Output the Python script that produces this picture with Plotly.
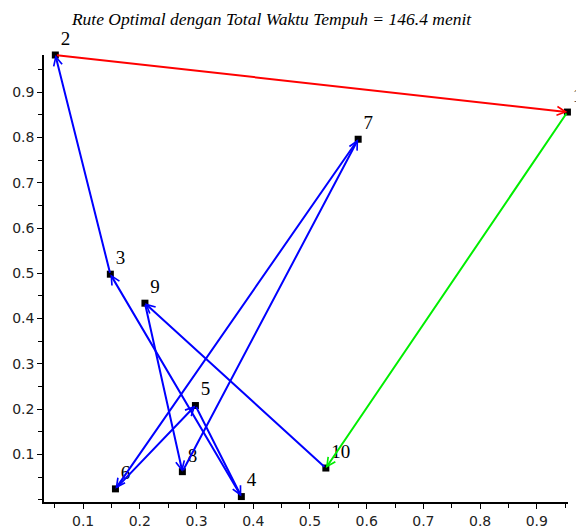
import plotly.graph_objects as go

# ---- data ----
point_ids = ["1", "2", "3", "4", "5", "6", "7", "8", "9", "10"]
x_vals = [0.954, 0.051, 0.148, 0.379, 0.298, 0.157, 0.585, 0.275, 0.209, 0.528]
y_vals = [0.856, 0.982, 0.498, 0.007, 0.208, 0.024, 0.796, 0.062, 0.434, 0.070]
route = [1, 10, 9, 8, 7, 6, 5, 4, 3, 2, 1]
title_text = "Rute Optimal dengan Total Waktu Tempuh = 146.4 menit"
x_ticks = [0.1, 0.2, 0.3, 0.4, 0.5, 0.6, 0.7, 0.8, 0.9]
y_ticks = [0.1, 0.2, 0.3, 0.4, 0.5, 0.6, 0.7, 0.8, 0.9]

SERIF = "Times New Roman, Liberation Serif, serif"

fig = go.Figure()

fig.add_trace(go.Scatter(
    x=x_vals, y=y_vals, mode="markers+text",
    text=point_ids, textposition="top right",
    marker=dict(symbol="square", size=7, color="black"),
    textfont=dict(family=SERIF, size=19, color="black"),
    cliponaxis=False, hoverinfo="skip", showlegend=False,
))

n_seg = len(route) - 1
for i in range(n_seg):
    a = route[i] - 1
    b = route[i + 1] - 1
    if i == 0:
        col = "#00ee00"
    elif i == n_seg - 1:
        col = "#ff0000"
    else:
        col = "#0000ff"
    fig.add_annotation(
        x=x_vals[b], y=y_vals[b], ax=x_vals[a], ay=y_vals[a],
        xref="x", yref="y", axref="x", ayref="y",
        text="", showarrow=True, arrowhead=5, arrowsize=0.85,
        arrowwidth=2, arrowcolor=col, standoff=0, startstandoff=0,
    )

axis_common = dict(
    showgrid=False, zeroline=False, showline=True, linecolor="black",
    linewidth=1.5, ticks="outside", ticklen=5, tickwidth=1.2, tickcolor="black",
    tickfont=dict(family="DejaVu Sans", size=14, color="#222222"),
    minor=dict(ticks="outside", ticklen=4, tickwidth=1.2, tickcolor="black", dtick=0.05),
    mirror=False, automargin=False,
)

fig.update_xaxes(range=[0.031, 0.955], tickvals=x_ticks,
                 ticktext=[str(v) for v in x_ticks], **axis_common)
fig.update_yaxes(range=[-0.005, 0.982], tickvals=y_ticks,
                 ticktext=[str(v) for v in y_ticks], **axis_common)

fig.update_layout(
    width=576, height=520,
    margin=dict(l=36, r=16, t=47, b=26),
    plot_bgcolor="white", paper_bgcolor="white",
    title=dict(text="<i>" + title_text + "</i>", xref="container", x=0.4575,
               xanchor="center", y=0.979, yanchor="middle",
               font=dict(family=SERIF, size=17.5, color="black")),
)

fig.write_html("out.html")
